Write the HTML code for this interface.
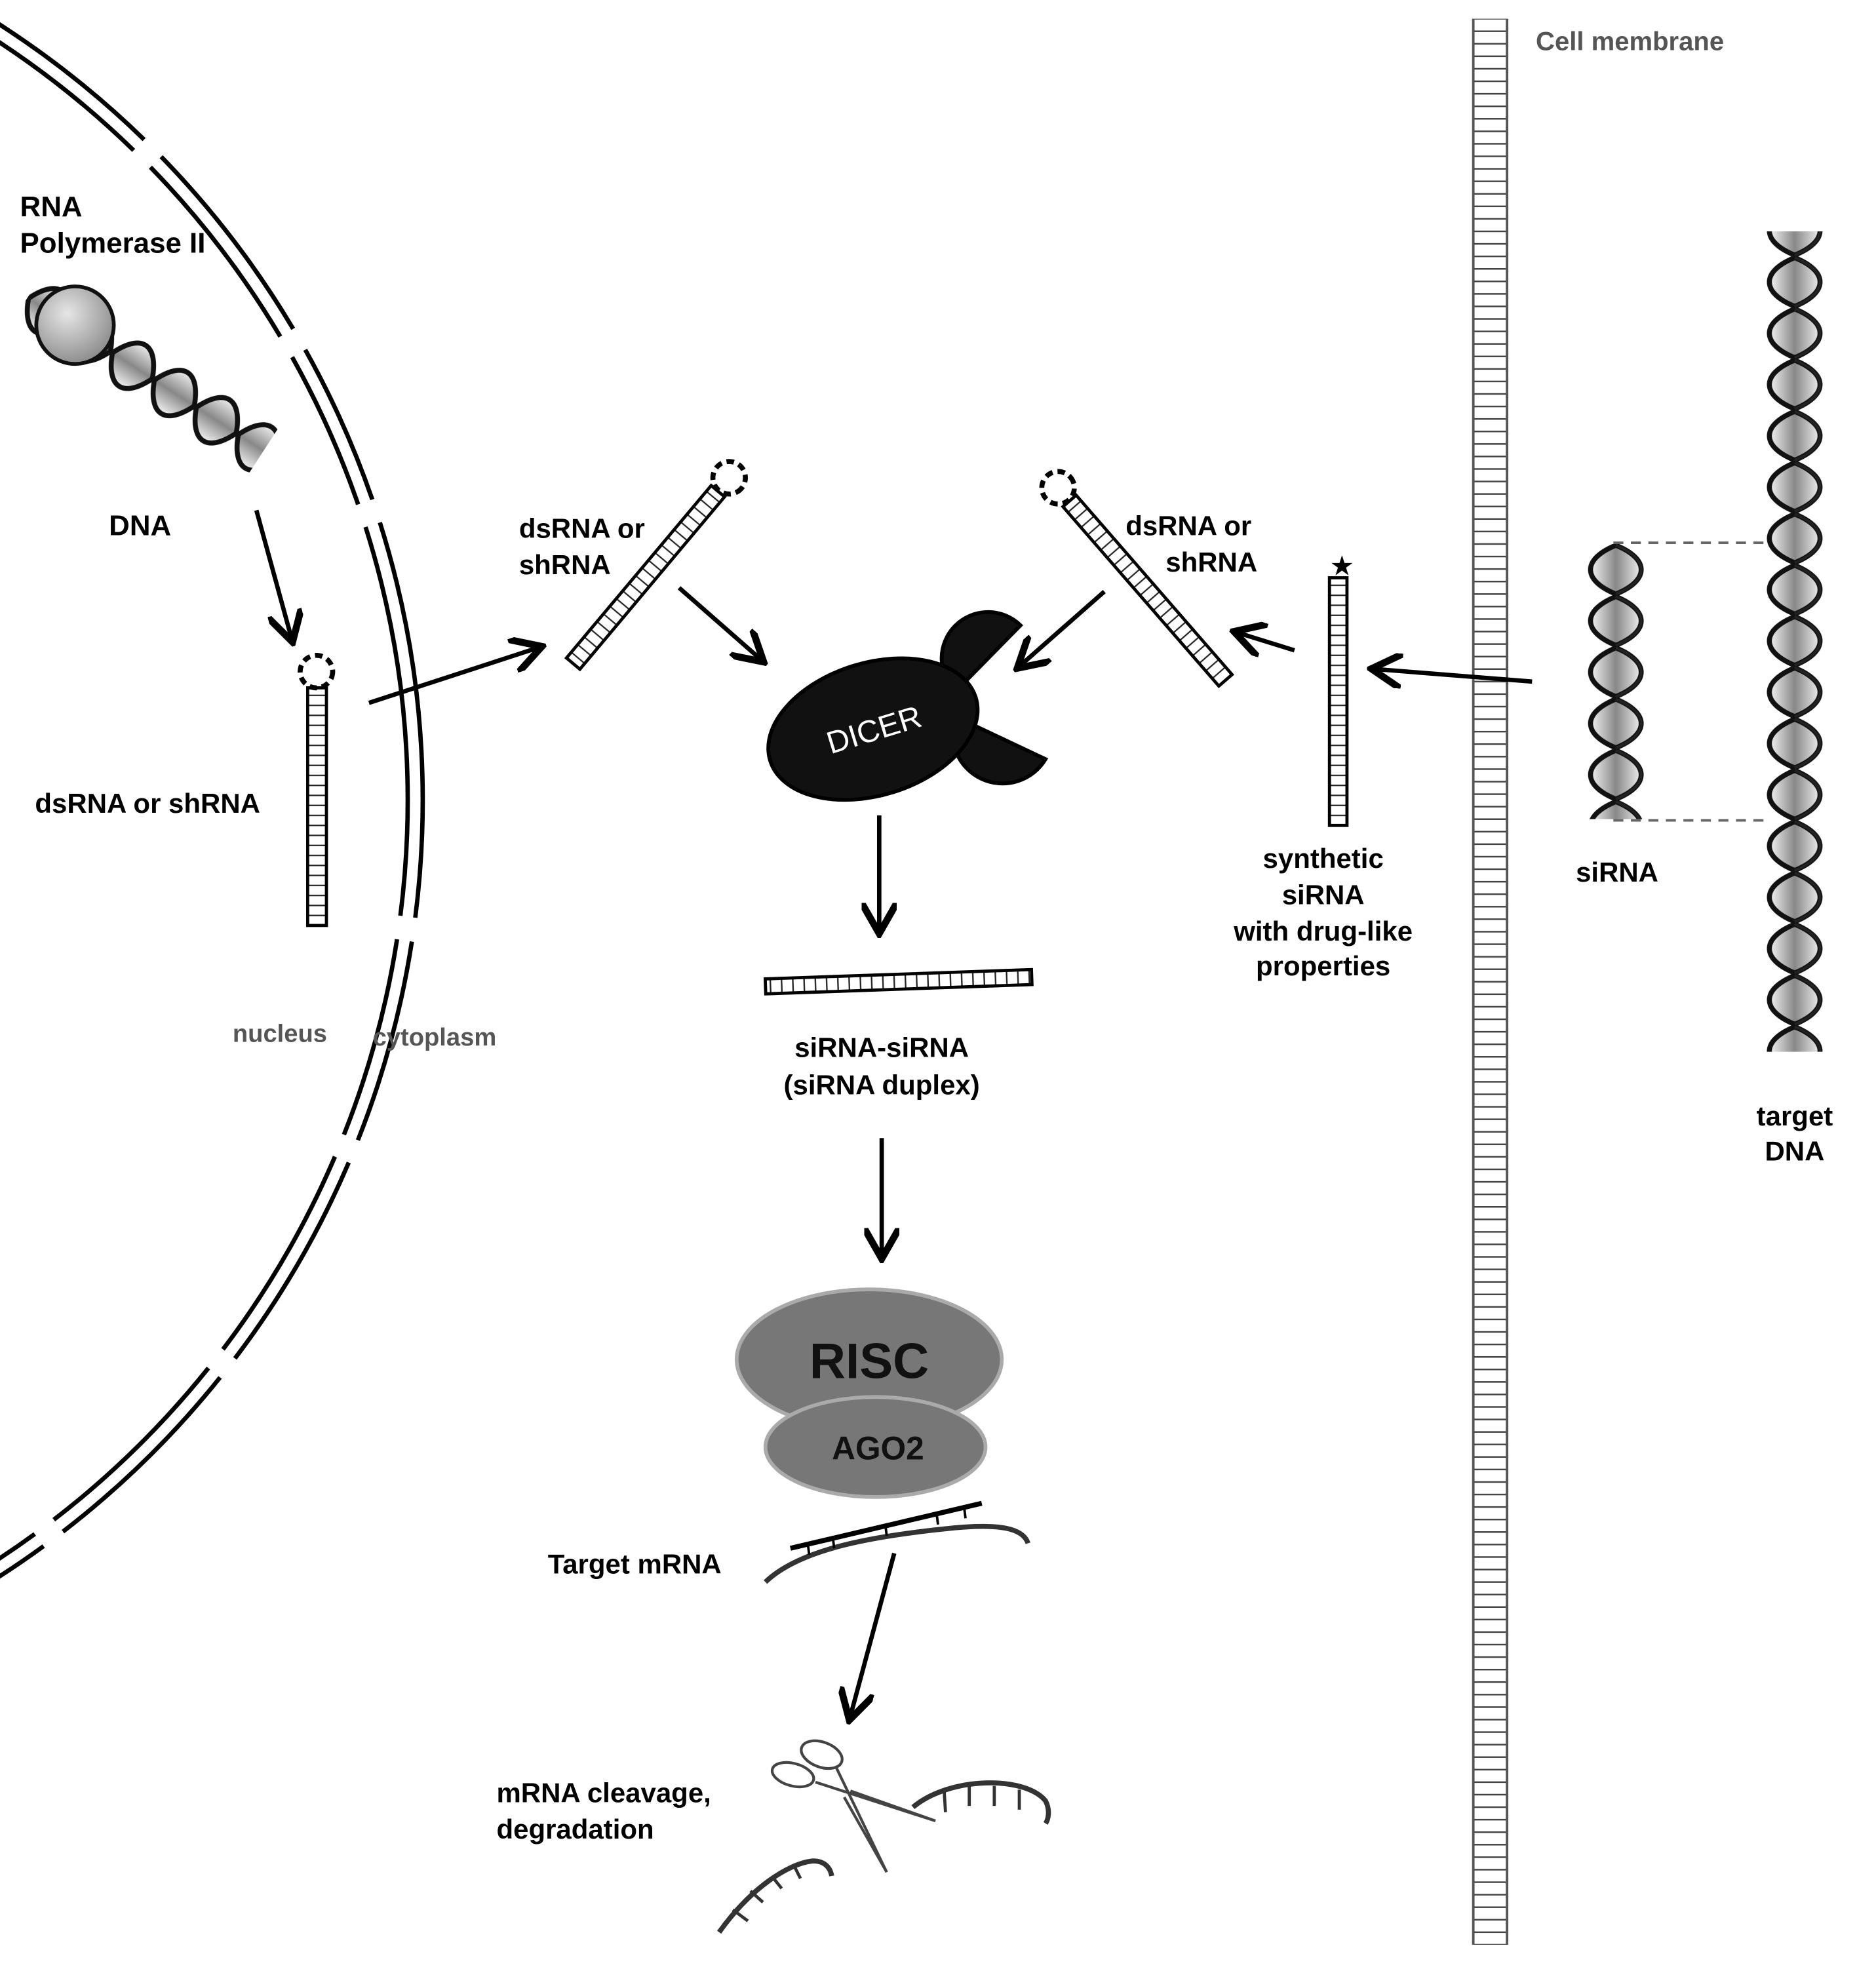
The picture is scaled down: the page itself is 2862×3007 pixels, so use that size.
<!DOCTYPE html>
<html><head><meta charset="utf-8"><style>
html,body{margin:0;padding:0;background:#fff;}
svg{display:block;}
text{font-family:"Liberation Sans","DejaVu Sans",sans-serif;font-weight:bold;}
</style></head><body>
<svg width="2862" height="3007" viewBox="0 0 1500 1576" xmlns="http://www.w3.org/2000/svg">
<defs>
<marker id="ah" markerWidth="8" markerHeight="8" refX="6" refY="4" orient="auto" markerUnits="strokeWidth">
<path d="M0,0 L7,4 L0,8" fill="none" stroke="#000" stroke-width="1.6"/></marker>
<linearGradient id="lg" x1="0" y1="0" x2="1" y2="0"><stop offset="0" stop-color="#f4f4f4"/><stop offset="0.5" stop-color="#888"/><stop offset="1" stop-color="#eee"/></linearGradient>
<radialGradient id="ball" cx="0.4" cy="0.35" r="0.7"><stop offset="0" stop-color="#e6e6e6"/><stop offset="1" stop-color="#888"/></radialGradient>
<pattern id="vhelix" patternUnits="userSpaceOnUse" width="70" height="41" x="0" y="0">
<path d="M35,1 C62,12 62,29 35,40 C8,29 8,12 35,1Z" fill="url(#lg)" stroke="#111" stroke-width="4"/>
<path d="M35,1 C62,12 62,29 35,40" fill="none" stroke="#222" stroke-width="2"/>
</pattern>
<pattern id="dhelix" patternUnits="userSpaceOnUse" width="64" height="40" x="-32" y="0">
<path d="M32,1 C58,12 58,28 32,39 C6,28 6,12 32,1Z" fill="url(#lg)" stroke="#111" stroke-width="4"/>
</pattern>
<pattern id="rungs" patternUnits="userSpaceOnUse" width="30" height="10">
<line x1="0" y1="5" x2="30" y2="5" stroke="#444" stroke-width="1.3"/></pattern>
<pattern id="rungs2" patternUnits="userSpaceOnUse" width="20" height="8">
<line x1="0" y1="4" x2="20" y2="4" stroke="#222" stroke-width="1.2"/></pattern>
<pattern id="hrungs" patternUnits="userSpaceOnUse" width="9" height="20">
<line x1="4" y1="0" x2="4" y2="20" stroke="#222" stroke-width="1.2"/></pattern>
</defs>

<g fill="none" stroke="#000" stroke-width="3.5">
<circle cx="-400" cy="640" r="738" pathLength="360" stroke-dasharray="7.3 1.5 12.8 1.5 14.1 1.5 13.7 1.5 260.4 1.5 13.5 1.5 10.2 1.5 17.5 0"/>
<circle cx="-400" cy="640" r="726" pathLength="360" stroke-dasharray="7.3 1.5 12.8 1.5 14.1 1.5 13.7 1.5 260.4 1.5 13.5 1.5 10.2 1.5 17.5 0"/>
</g>

<rect x="1178" y="15" width="27" height="1540" fill="url(#rungs)"/>
<line x1="1178" y1="15" x2="1178" y2="1555" stroke="#555" stroke-width="2"/>
<line x1="1205" y1="15" x2="1205" y2="1555" stroke="#555" stroke-width="2"/>
<text x="1228" y="40" font-size="21" fill="#555">Cell membrane</text>

<rect x="1402" y="185" width="70" height="656" fill="url(#vhelix)"/>
<g transform="translate(1257,435)"><rect x="0" y="0" width="70" height="220" fill="url(#vhelix)"/></g>
<g stroke="#666" stroke-width="2" stroke-dasharray="8 6"><line x1="1290" y1="434" x2="1412" y2="434"/><line x1="1290" y1="656" x2="1412" y2="656"/></g>
<text x="1293" y="705" font-size="22" text-anchor="middle">siRNA</text>
<text x="1435" y="900" font-size="22" text-anchor="middle">target</text>
<text x="1435" y="928" font-size="22" text-anchor="middle">DNA</text>

<g transform="translate(22,238) rotate(-57)">
<rect x="-32" y="0" width="64" height="225" fill="url(#dhelix)"/>
</g>
<circle cx="60" cy="260" r="31" fill="url(#ball)" stroke="#111" stroke-width="3"/>
<text x="16" y="173" font-size="23">RNA</text>
<text x="16" y="202" font-size="23">Polymerase II</text>
<text x="112" y="428" font-size="23" text-anchor="middle">DNA</text>

<g stroke="#000" stroke-width="2.5">
<rect x="246" y="550" width="15" height="190" fill="url(#rungs2)"/>
<circle cx="253" cy="537" r="13" fill="none" stroke-dasharray="6 4" stroke-width="4"/>
</g>
<g transform="translate(583,382) rotate(40)" stroke="#000" stroke-width="2.5">
<rect x="-7" y="14" width="14" height="180" fill="url(#rungs2)"/>
<circle cx="0" cy="0" r="13" fill="none" stroke-dasharray="6 4" stroke-width="4"/>
</g>
<g transform="translate(846,390) rotate(-41)" stroke="#000" stroke-width="2.5">
<rect x="-7" y="14" width="14" height="190" fill="url(#rungs2)"/>
<circle cx="0" cy="0" r="13" fill="none" stroke-dasharray="6 4" stroke-width="4"/>
</g>
<g stroke="#000" stroke-width="2.5">
<rect x="1063" y="462" width="14" height="198" fill="url(#rungs2)"/>
</g>
<text x="1073" y="460" font-size="22" text-anchor="middle">★</text>

<text x="28" y="650" font-size="22">dsRNA or shRNA</text>
<text x="415" y="430" font-size="22">dsRNA or</text>
<text x="415" y="459" font-size="22">shRNA</text>
<text x="900" y="428" font-size="22">dsRNA or</text>
<text x="932" y="457" font-size="22">shRNA</text>
<text x="1058" y="694" font-size="22" text-anchor="middle">synthetic</text>
<text x="1058" y="723" font-size="22" text-anchor="middle">siRNA</text>
<text x="1058" y="752" font-size="22" text-anchor="middle">with drug-like</text>
<text x="1058" y="780" font-size="22" text-anchor="middle">properties</text>
<text x="186" y="833" font-size="20" fill="#555">nucleus</text>
<text x="298" y="836" font-size="20" fill="#555">cytoplasm</text>

<path d="M816,500 A37,37 0 0 0 764,553 Z" fill="#111" stroke="#000" stroke-width="3"/>
<path d="M836,607 A40,40 0 0 1 764,573 Z" fill="#111" stroke="#000" stroke-width="3"/>
<ellipse cx="698" cy="583" rx="86" ry="53" transform="rotate(-17 698 583)" fill="#111" stroke="#000" stroke-width="3"/>
<text x="699" y="592" font-size="25" fill="#fff" text-anchor="middle" transform="rotate(-17 699 584)" style="font-weight:normal">DICER</text>

<g transform="rotate(-2 718 785)"><rect x="612" y="779" width="213" height="12" fill="url(#hrungs)" stroke="#000" stroke-width="2.5"/></g>
<text x="705" y="845" font-size="22" text-anchor="middle">siRNA-siRNA</text>
<text x="705" y="875" font-size="22" text-anchor="middle">(siRNA duplex)</text>

<ellipse cx="695" cy="1087" rx="106" ry="56" fill="#777" stroke="#aaa" stroke-width="3"/>
<ellipse cx="700" cy="1157" rx="88" ry="40" fill="#777" stroke="#aaa" stroke-width="3"/>
<text x="695" y="1102" font-size="40" text-anchor="middle" fill="#111">RISC</text>
<text x="702" y="1167" font-size="26" text-anchor="middle" fill="#111">AGO2</text>

<path d="M612,1265 C640,1238 700,1228 760,1222 C800,1218 818,1222 822,1234" fill="none" stroke="#333" stroke-width="4"/>
<path d="M632,1238 L785,1202" fill="none" stroke="#000" stroke-width="4"/>
<g stroke="#000" stroke-width="2"><line x1="646" y1="1235" x2="647" y2="1243"/><line x1="666" y1="1230" x2="667" y2="1238"/><line x1="708" y1="1220" x2="709" y2="1228"/><line x1="749" y1="1211" x2="750" y2="1219"/><line x1="771" y1="1206" x2="772" y2="1214"/></g>
<text x="438" y="1258" font-size="22">Target mRNA</text>

<g stroke="#000" stroke-width="3.5" fill="none" marker-end="url(#ah)">
<line x1="205" y1="408" x2="233" y2="510"/>
<line x1="295" y1="562" x2="430" y2="518"/>
<line x1="543" y1="470" x2="608" y2="527"/>
<line x1="883" y1="473" x2="816" y2="532"/>
<line x1="1035" y1="520" x2="990" y2="506"/>
<line x1="1225" y1="545" x2="1100" y2="535"/>
<line x1="703" y1="652" x2="703" y2="743"/>
<line x1="705" y1="910" x2="705" y2="1003"/>
<line x1="715" y1="1242" x2="680" y2="1372"/>
</g>

<path d="M730,1445 C760,1420 820,1420 836,1440 C840,1448 838,1455 836,1458" fill="none" stroke="#333" stroke-width="4"/>
<g stroke="#333" stroke-width="2.5"><line x1="755" y1="1433" x2="756" y2="1449"/><line x1="775" y1="1428" x2="775" y2="1444"/><line x1="795" y1="1428" x2="795" y2="1444"/><line x1="815" y1="1431" x2="815" y2="1447"/></g>
<path d="M575,1545 C600,1510 630,1490 650,1488 C660,1488 664,1494 665,1500" fill="none" stroke="#333" stroke-width="4"/>
<g stroke="#333" stroke-width="2.5"><line x1="586" y1="1527" x2="598" y2="1536"/><line x1="600" y1="1512" x2="610" y2="1521"/><line x1="617" y1="1500" x2="625" y2="1510"/><line x1="635" y1="1492" x2="640" y2="1502"/></g>
<g fill="none" stroke="#444" stroke-width="2.2">
<ellipse cx="657" cy="1403" rx="17" ry="10" transform="rotate(20 657 1403)"/>
<ellipse cx="634" cy="1419" rx="17" ry="9" transform="rotate(15 634 1419)"/>
<path d="M652,1425 L748,1456 L680,1432"/>
<path d="M668,1412 L709,1497 L675,1437"/>
</g>
<text x="397" y="1441" font-size="22">mRNA cleavage,</text>
<text x="397" y="1470" font-size="22">degradation</text>
</svg>
</body></html>
